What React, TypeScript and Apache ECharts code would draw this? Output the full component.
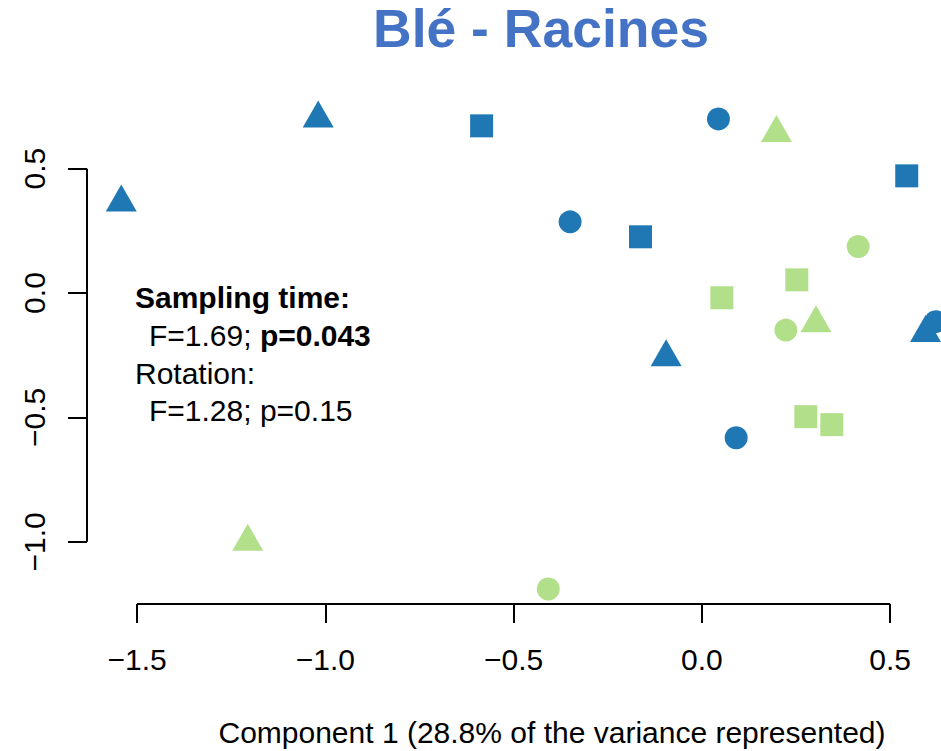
import React, { useEffect, useRef } from "react";
import * as echarts from "echarts";

// ---- data (Component 1, Component 2) ----
const BLUE_CIRCLES: number[][] = [
  [0.044, 0.700],
  [-0.350, 0.286],
  [0.621, -0.115],
  [0.091, -0.582],
];
const BLUE_SQUARES: number[][] = [
  [-0.585, 0.672],
  [-0.163, 0.226],
  [0.544, 0.471],
];
const BLUE_TRIANGLES: number[][] = [
  [-1.542, 0.364],
  [-1.019, 0.702],
  [-0.095, -0.258],
  [0.594, -0.161],
];
const GREEN_CIRCLES: number[][] = [
  [0.415, 0.187],
  [0.223, -0.149],
  [-0.408, -1.190],
];
const GREEN_SQUARES: number[][] = [
  [0.252, 0.053],
  [0.053, -0.019],
  [0.276, -0.497],
  [0.345, -0.529],
];
const GREEN_TRIANGLES: number[][] = [
  [0.198, 0.643],
  [0.303, -0.121],
  [-1.206, -1.0],
];

const X_TICKS = [-1.5, -1.0, -0.5, 0.0, 0.5];
const Y_TICKS = [-1.0, -0.5, 0.0, 0.5];
const X_RANGE = [-1.633, 0.635];
const Y_RANGE = [-1.25, 0.8];

const TITLE = "Blé - Racines";
const X_TITLE = "Component 1 (28.8% of the variance represented)";

const BLUE = "#1F78B4";
const GREEN = "#B2DF8A";
const FONT = "'Liberation Sans', Arial, Helvetica, sans-serif";
const FS = 30;

const fmt = (v: number) => v.toFixed(1).replace("-", "\u2212");

export default function App() {
  const ref = useRef<HTMLDivElement>(null);
  useEffect(() => {
    if (!ref.current) return;
    const chart = echarts.init(ref.current, undefined, { renderer: "svg" });
    const circle = { symbol: "circle", symbolSize: 23 };
    const square = { symbol: "rect", symbolSize: 23 };
    const tri = { symbol: "triangle", symbolSize: [31, 27], symbolOffset: [0, -4.5] };
    const scatter = (data: number[][], color: string, shape: any) => ({
      type: "scatter",
      data,
      clip: false,
      itemStyle: { color, opacity: 1 },
      silent: true,
      ...shape,
    });
    const lineStyle = { color: "#000", width: 2 };
    const rs = (weight: string) => ({
      fontWeight: weight,
      fontSize: FS,
      fontFamily: FONT,
      lineHeight: 37.7,
      fill: "#000",
    });
    chart.setOption({
      animation: false,
      backgroundColor: "#fff",
      grid: { left: 87, top: 94, right: 0, height: 510, containLabel: false },
      xAxis: {
        type: "value",
        min: X_RANGE[0],
        max: X_RANGE[1],
        axisLine: { show: false, onZero: false },
        splitLine: { show: false },
        axisTick: { show: true, customValues: X_TICKS, length: 19, lineStyle },
        axisLabel: {
          customValues: X_TICKS,
          formatter: fmt,
          fontSize: FS,
          color: "#000",
          fontFamily: FONT,
          margin: 40,
        },
      },
      yAxis: {
        type: "value",
        min: Y_RANGE[0],
        max: Y_RANGE[1],
        axisLine: { show: false, onZero: false },
        splitLine: { show: false },
        axisTick: { show: true, customValues: Y_TICKS, length: 19, lineStyle },
        axisLabel: {
          customValues: Y_TICKS,
          formatter: fmt,
          rotate: 90,
          fontSize: FS,
          color: "#000",
          fontFamily: FONT,
          margin: 38,
        },
      },
      series: [
        {
          type: "line",
          data: [
            [X_TICKS[0], Y_RANGE[0]],
            [X_TICKS[X_TICKS.length - 1], Y_RANGE[0]],
          ],
          symbol: "none",
          clip: false,
          silent: true,
          lineStyle,
        },
        {
          type: "line",
          data: [
            [X_RANGE[0], Y_TICKS[0]],
            [X_RANGE[0], Y_TICKS[Y_TICKS.length - 1]],
          ],
          symbol: "none",
          clip: false,
          silent: true,
          lineStyle,
        },
        scatter(BLUE_CIRCLES, BLUE, circle),
        scatter(BLUE_SQUARES, BLUE, square),
        scatter(BLUE_TRIANGLES, BLUE, tri),
        scatter(GREEN_CIRCLES, GREEN, circle),
        scatter(GREEN_SQUARES, GREEN, square),
        scatter(GREEN_TRIANGLES, GREEN, tri),
      ],
      graphic: [
        {
          type: "text",
          x: 541,
          y: 28,
          style: {
            text: TITLE,
            fill: "#4472C4",
            fontSize: 53.5,
            fontWeight: "bold",
            fontFamily: FONT,
            align: "center",
            verticalAlign: "middle",
          },
        },
        {
          type: "text",
          x: 552,
          y: 732,
          style: {
            text: X_TITLE,
            fill: "#000",
            fontSize: FS,
            fontFamily: FONT,
            align: "center",
            verticalAlign: "middle",
          },
        },
        {
          type: "text",
          x: 135,
          y: 279,
          style: {
            text:
              "{b|Sampling time:}\n{sp| }{n|F=1.69; }{b|p=0.043}\n{n|Rotation:}\n{sp| }{n|F=1.28; p=0.15}",
            fill: "#000",
            fontSize: FS,
            fontFamily: FONT,
            lineHeight: 37.7,
            align: "left",
            verticalAlign: "top",
            rich: {
              b: rs("bold"),
              n: rs("normal"),
              sp: { ...rs("normal"), width: 14 },
            },
          },
        },
      ],
    });
    return () => chart.dispose();
  }, []);
  return (
    <div
      ref={ref}
      style={{ position: "absolute", left: 0, top: 0, width: 941, height: 751 }}
    />
  );
}
